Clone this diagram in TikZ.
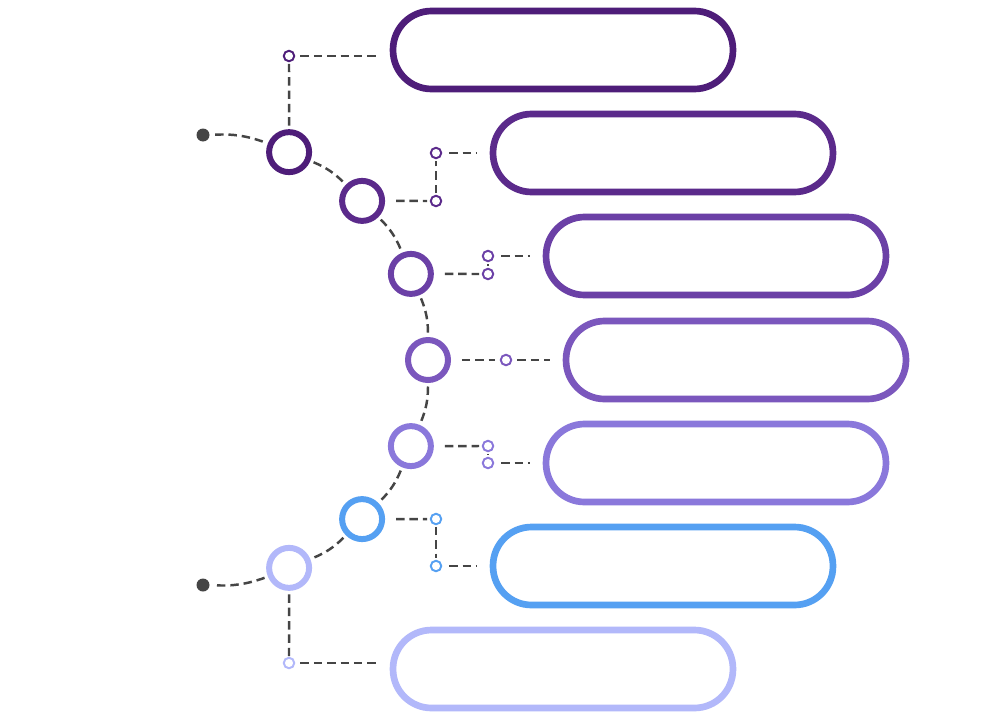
\documentclass[tikz,border=0pt]{standalone}
\usetikzlibrary{calc}
\definecolor{c1}{HTML}{4E1D79}
\definecolor{c2}{HTML}{5B2A8B}
\definecolor{c3}{HTML}{6B40A6}
\definecolor{c4}{HTML}{7B57BD}
\definecolor{c5}{HTML}{8A78DB}
\definecolor{c6}{HTML}{55A0F2}
\definecolor{c7}{HTML}{B2B8FA}
\definecolor{linkcolor}{HTML}{454545}

\begin{document}
\begin{tikzpicture}[
    x=0.02cm, y=-0.02cm,
    ring/.style={circle, draw=#1, fill=white, line width=3.4pt,
                 minimum size=0.8cm, inner sep=0pt},
    pin/.style={circle, draw=#1, fill=white, line width=1.1pt,
                minimum size=0.21cm, inner sep=0pt},
    pill/.style={rectangle, draw=#1, fill=white, line width=3.8pt,
                 minimum width=6.8cm, minimum height=1.56cm,
                 rounded corners=0.77cm, inner sep=0pt},
    dot/.style={circle, fill=linkcolor, minimum size=0.26cm, inner sep=0pt},
    link/.style={linkcolor, line width=1.4pt, dash pattern=on 4.8pt off 2.8pt},
    offring/.style={shorten <=0.22cm},
    tobox/.style={shorten >=0.26cm},
]
\fill[white] (0,0) rectangle (1000,720);
\useasboundingbox (0,0) rectangle (1000,720);
\coordinate (hub) at (203,360);

% ---------------------------------------------------------------- the arc
\node[dot] (head) at ($(hub)+(-90:225)$) {};
\node[dot] (tail) at ($(hub)+(90:225)$) {};
\foreach \i/\c in {1/c1, 2/c2, 3/c3, 4/c4, 5/c5, 6/c6, 7/c7}{
    \node[ring=\c] (r\i) at ($(hub)+({-90+22.5*\i}:225)$) {};
}
\draw[link, shorten <=3pt, shorten >=2pt] (head) to[bend left=11.25] (r1);
\foreach \i/\j in {1/2, 2/3, 3/4, 4/5, 5/6, 6/7}{
    \draw[link, shorten <=2pt, shorten >=2pt] (r\i) to[bend left=11.25] (r\j);
}
\draw[link, shorten <=2pt, shorten >=3pt] (r7) to[bend left=11.25] (tail);

% ---------------------------------------------------------------- the boxes
\node[pill=c1] (b1) at (563,50) {};
\node[pill=c2] (b2) at (663,153) {};
\node[pill=c3] (b3) at (716,256) {};
\node[pill=c4] (b4) at (736,360) {};
\node[pill=c5] (b5) at (716,463) {};
\node[pill=c6] (b6) at (663,566) {};
\node[pill=c7] (b7) at (563,669) {};

% ---------------------------------------------------------------- the leads
% row 1, up and across
\node[pin=c1] (p1) at (289,56) {};
\draw[link, shorten <=2pt] (r1) -- (p1);
\draw[link, shorten <=3pt, tobox] (p1) -- (p1 -| b1.west);

% row 2, across, up, across
\node[pin=c2] (p2a) at (436,201) {};
\node[pin=c2] (p2b) at (436,153) {};
\draw[link, offring, shorten >=1.5pt] (r2) -- (p2a);
\draw[link, shorten <=1pt, shorten >=1pt] (p2a) -- (p2b);
\draw[link, shorten <=4pt, tobox] (p2b) -- (b2);

% row 3
\node[pin=c3] (p3a) at (488,274) {};
\node[pin=c3] (p3b) at (488,256) {};
\draw[link, offring, shorten >=1.5pt] (r3) -- (p3a);
\draw[link, shorten <=1pt, shorten >=1pt] (p3a) -- (p3b);
\draw[link, shorten <=4pt, tobox] (p3b) -- (b3);

% row 4, straight across
\node[pin=c4] (p4) at (506,360) {};
\draw[link, offring, shorten >=3pt] (r4) -- (p4);
\draw[link, shorten <=3pt, tobox] (p4) -- (b4);

% row 5
\node[pin=c5] (p5a) at (488,446) {};
\node[pin=c5] (p5b) at (488,463) {};
\draw[link, offring, shorten >=1.5pt] (r5) -- (p5a);
\draw[link, shorten <=1pt, shorten >=1pt] (p5a) -- (p5b);
\draw[link, shorten <=4pt, tobox] (p5b) -- (b5);

% row 6
\node[pin=c6] (p6a) at (436,519) {};
\node[pin=c6] (p6b) at (436,566) {};
\draw[link, offring, shorten >=1.5pt] (r6) -- (p6a);
\draw[link, shorten <=1pt, shorten >=1pt] (p6a) -- (p6b);
\draw[link, shorten <=4pt, tobox] (p6b) -- (b6);

% row 7, down and across
\node[pin=c7] (p7) at (289,663) {};
\draw[link, shorten <=2pt] (r7) -- (p7);
\draw[link, shorten <=3pt, tobox] (p7) -- (p7 -| b7.west);
\end{tikzpicture}
\end{document}
